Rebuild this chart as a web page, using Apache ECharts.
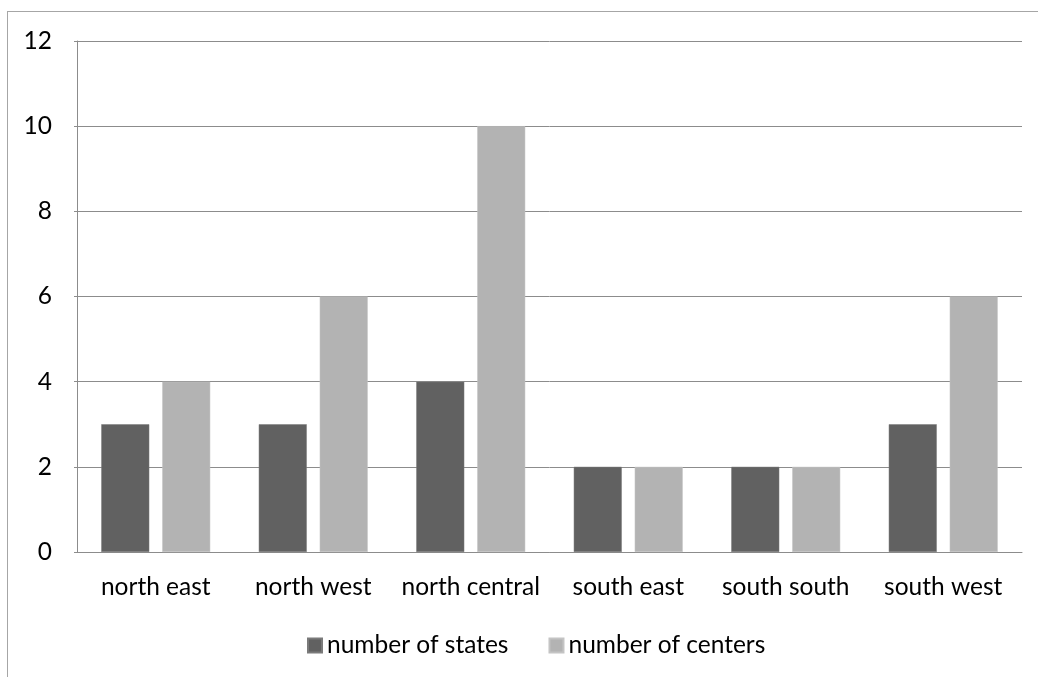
<!DOCTYPE html>
<html>
<head>
<meta charset="utf-8">
<script src="https://cdn.jsdelivr.net/npm/echarts@6/dist/echarts.min.js"></script>
<style>
  html, body { margin: 0; padding: 0; background: #fff; }
  #frame { position: absolute; left: 7px; top: 11px; width: 1100px; height: 700px;
           border-left: 1px solid #a6a6a6; border-top: 1px solid #a6a6a6; }
  #chart { position: absolute; left: 0; top: 0; width: 1038px; height: 677px; }
</style>
</head>
<body>
<div id="frame"></div>
<div id="chart"></div>
<script>
const regions = ['north east', 'north west', 'north central', 'south east', 'south south', 'south west'];
const numberOfStates = [3, 3, 4, 2, 2, 3];
const numberOfCenters = [4, 6, 10, 2, 2, 6];
const yTicks = { min: 0, max: 12, interval: 2 };

const font = 'Lato, "Open Sans", sans-serif';
const fontSize = 24.5;
const chart = echarts.init(document.getElementById('chart'), null, { renderer: 'canvas' });
chart.setOption({
  animation: false,
  grid: { left: 77, right: 16, top: 41, bottom: 125, containLabel: false },
  legend: {
    bottom: 14,
    left: 302,
    itemWidth: 14,
    itemHeight: 14,
    itemGap: 40,
    icon: 'rect',
    textStyle: { fontFamily: font, fontSize: fontSize, color: '#000' },
    data: ['number of states', 'number of centers']
  },
  xAxis: {
    type: 'category',
    data: regions,
    axisLine: { lineStyle: { color: '#8c8c8c', width: 1 } },
    axisTick: { show: false },
    axisLabel: { interval: 0, fontFamily: font, fontSize: fontSize, color: '#000', margin: 23 }
  },
  yAxis: {
    type: 'value',
    min: yTicks.min,
    max: yTicks.max,
    interval: yTicks.interval,
    axisLine: { show: true, lineStyle: { color: '#8c8c8c', width: 1 } },
    axisTick: { show: true, length: 3, lineStyle: { color: '#8c8c8c' } },
    splitLine: { lineStyle: { color: '#8c8c8c', width: 1 } },
    axisLabel: { fontFamily: font, fontSize: fontSize, color: '#000', margin: 25 }
  },
  series: [
    {
      name: 'number of states',
      type: 'bar',
      data: numberOfStates,
      barWidth: 48,
      barGap: '27%',
      itemStyle: { color: '#616161', borderColor: '#7a7a7a', borderWidth: 0.5 }
    },
    {
      name: 'number of centers',
      type: 'bar',
      data: numberOfCenters,
      barWidth: 48,
      itemStyle: { color: '#b3b3b3', borderColor: '#c4c4c4', borderWidth: 0.5 }
    }
  ]
});
</script>
</body>
</html>
